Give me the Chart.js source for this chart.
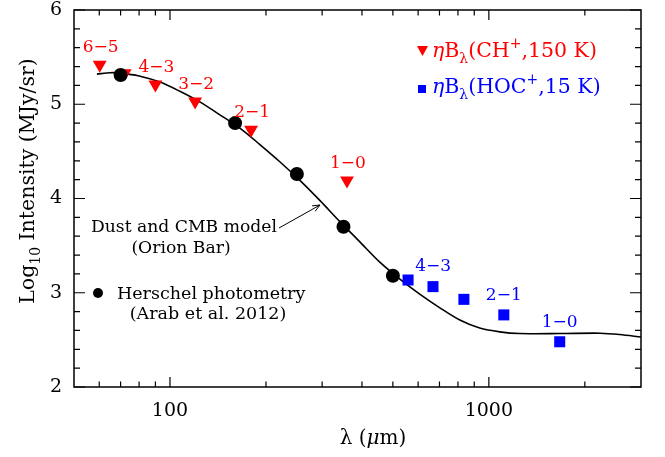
<!DOCTYPE html>
<html>
<head>
<meta charset="utf-8">
<script src="https://cdn.jsdelivr.net/npm/chart.js@4"></script>
<style>
  html, body { margin: 0; padding: 0; background: #fff; }
  canvas { display: block; }
</style>
</head>
<body>
<canvas id="chart" width="665" height="457"></canvas>
<script>
// dust + CMB model (Orion Bar)
const modelX = [59, 65, 70, 80, 93, 107, 124, 143, 166, 191, 221, 256, 295, 341, 394, 455, 526, 607, 702, 811, 936, 1082, 1250, 1670, 2230, 2570, 3000]
const modelY = [5.32, 5.335, 5.33, 5.30, 5.235, 5.14, 5.025, 4.89, 4.745, 4.575, 4.39, 4.19, 3.98, 3.755, 3.54, 3.325, 3.145, 2.985, 2.84, 2.71, 2.625, 2.585, 2.567, 2.567, 2.571, 2.557, 2.53]

// Herschel photometry (Arab et al. 2012)
const herschelX = [70, 160, 250, 350, 500]
const herschelY = [5.31, 4.80, 4.26, 3.70, 3.18]

// eta B_lambda (CH+, 150 K)
const chX = [60.2, 72.1, 90.0, 119.9, 179.6, 359.0]
const chY = [5.42, 5.33, 5.21, 5.03, 4.73, 4.19]
const chLabels = ['6−5', '', '4−3', '3−2', '2−1', '1−0']

// eta B_lambda (HOC+, 15 K)
const hocX = [558, 668, 835, 1114, 1668]
const hocY = [3.135, 3.065, 2.93, 2.765, 2.48]
const hocLabels = ['4−3', '', '', '2−1', '1−0']

const xMajorTicks = [100, 1000]
const xMinorTicks = [60, 70, 80, 90, 200, 300, 400, 500, 600, 700, 800, 900, 2000]
const yMajorTicks = [2, 3, 4, 5, 6]
const yMinorTicks = [2.2, 2.4, 2.6, 2.8, 3.2, 3.4, 3.6, 3.8, 4.2, 4.4, 4.6, 4.8, 5.2, 5.4, 5.6, 5.8]

const FAMILY = '"DejaVu Serif", serif'
const RED = '#ff0000'
const BLUE = '#0000ff'

const pts = (xs, ys) => xs.map((x, i) => ({x: x, y: ys[i]}))

// draw text made of pieces: [text, style], style '' | 'i' | 'sub' | 'sup'
function drawRich(ctx, parts, x, y, size, color, align) {
  const fonts = parts.map(([t, s]) => {
    const sz = (s === 'sub' || s === 'sup') ? size * 0.68 : size
    return (s === 'i' ? 'italic ' : '') + sz + 'px ' + FAMILY
  })
  let w = 0
  parts.forEach(([t], i) => { ctx.font = fonts[i]; w += ctx.measureText(t).width })
  let cx = align === 'center' ? x - w / 2 : x
  ctx.fillStyle = color
  ctx.textAlign = 'left'
  ctx.textBaseline = 'alphabetic'
  parts.forEach(([t, s], i) => {
    ctx.font = fonts[i]
    const dy = s === 'sub' ? size * 0.3 : s === 'sup' ? -size * 0.45 : 0
    ctx.fillText(t, cx, y + dy)
    cx += ctx.measureText(t).width
  })
}

const decorations = {
  id: 'decorations',
  afterDatasetsDraw(chart) {
    const ctx = chart.ctx
    const a = chart.chartArea
    const xs = chart.scales.x
    const ys = chart.scales.y
    ctx.save()

    // frame + inward ticks on all four sides
    ctx.strokeStyle = '#000'
    ctx.lineWidth = 1.5
    ctx.strokeRect(a.left, a.top, a.right - a.left, a.bottom - a.top)
    ctx.lineWidth = 1.2
    ctx.beginPath()
    const xt = (v, len) => {
      const p = xs.getPixelForValue(v)
      ctx.moveTo(p, a.bottom); ctx.lineTo(p, a.bottom - len)
      ctx.moveTo(p, a.top); ctx.lineTo(p, a.top + len)
    }
    const yt = (v, len) => {
      const p = ys.getPixelForValue(v)
      ctx.moveTo(a.left, p); ctx.lineTo(a.left + len, p)
      ctx.moveTo(a.right, p); ctx.lineTo(a.right - len, p)
    }
    xMajorTicks.forEach(v => xt(v, 10))
    xMinorTicks.forEach(v => xt(v, 5.5))
    yMajorTicks.forEach(v => yt(v, 11))
    yMinorTicks.forEach(v => yt(v, 6))
    ctx.stroke()

    // transition labels
    ctx.font = '17px ' + FAMILY
    ctx.textAlign = 'center'
    ctx.textBaseline = 'middle'
    ctx.fillStyle = RED
    chX.forEach((x, i) => {
      if (!chLabels[i]) return
      ctx.fillText(chLabels[i], xs.getPixelForValue(x) + 1, ys.getPixelForValue(chY[i]) - 17)
    })
    ctx.fillStyle = BLUE
    hocX.forEach((x, i) => {
      if (!hocLabels[i]) return
      const dx = i === 0 ? 25 : 0
      const dy = i === 0 ? -13 : -19
      ctx.fillText(hocLabels[i], xs.getPixelForValue(x) + dx, ys.getPixelForValue(hocY[i]) + dy)
    })

    // legend, top right
    ctx.fillStyle = RED
    ctx.beginPath()
    ctx.moveTo(417, 46); ctx.lineTo(428, 46); ctx.lineTo(422.5, 56)
    ctx.closePath(); ctx.fill()
    drawRich(ctx, [['η', 'i'], ['B', ''], ['λ', 'sub'], ['(CH', ''], ['+', 'sup'], [',150 K)', '']], 432, 57, 20.5, RED, 'left')
    ctx.fillStyle = BLUE
    ctx.fillRect(418, 85, 8, 8)
    drawRich(ctx, [['η', 'i'], ['B', ''], ['λ', 'sub'], ['(HOC', ''], ['+', 'sup'], [',15 K)', '']], 432, 93, 20.5, BLUE, 'left')

    // Herschel legend
    ctx.fillStyle = '#000'
    ctx.beginPath(); ctx.arc(98, 293, 5, 0, Math.PI * 2); ctx.fill()
    drawRich(ctx, [['Herschel photometry', '']], 117, 299, 17.5, '#000', 'left')
    drawRich(ctx, [['(Arab et al. 2012)', '']], 208, 319, 17.5, '#000', 'center')

    // model annotation with arrow
    drawRich(ctx, [['Dust and CMB model', '']], 91, 232, 17.2, '#000', 'left')
    drawRich(ctx, [['(Orion Bar)', '']], 181, 253, 17.2, '#000', 'center')
    const tx = 320, ty = 205, fx = 279, fy = 228
    ctx.strokeStyle = '#000'
    ctx.lineWidth = 1
    ctx.beginPath()
    ctx.moveTo(fx, fy); ctx.lineTo(tx, ty)
    const ang = Math.atan2(ty - fy, tx - fx)
    ctx.moveTo(tx, ty); ctx.lineTo(tx - 8 * Math.cos(ang - 0.4), ty - 8 * Math.sin(ang - 0.4))
    ctx.moveTo(tx, ty); ctx.lineTo(tx - 8 * Math.cos(ang + 0.4), ty - 8 * Math.sin(ang + 0.4))
    ctx.stroke()

    // axis titles
    drawRich(ctx, [['λ', ''], [' (', ''], ['μ', 'i'], ['m)', '']], 373, 444, 20, '#000', 'center')
    ctx.translate(34, 181)
    ctx.rotate(-Math.PI / 2)
    drawRich(ctx, [['Log', ''], ['10', 'sub'], [' Intensity (MJy/sr)', '']], 0, 0, 20.5, '#000', 'center')
    ctx.restore()
  }
}

const ctx = document.getElementById('chart').getContext('2d')
new Chart(ctx, {
  type: 'scatter',
  data: {
    datasets: [
      {
        label: 'Herschel photometry',
        data: pts(herschelX, herschelY),
        pointStyle: 'circle',
        pointRadius: 7,
        backgroundColor: '#000',
        borderWidth: 0,
        order: 0,
      },
      {
        label: 'CH+',
        data: pts(chX, chY),
        pointStyle: 'triangle',
        rotation: 180,
        pointRadius: 8,
        backgroundColor: RED,
        borderWidth: 0,
        order: 1,
      },
      {
        label: 'HOC+',
        data: pts(hocX, hocY),
        pointStyle: 'rect',
        pointRadius: 7.8,
        backgroundColor: BLUE,
        borderWidth: 0,
        order: 2,
      },
      {
        label: 'Dust and CMB model',
        type: 'line',
        data: pts(modelX, modelY),
        borderColor: '#000',
        borderWidth: 1.6,
        pointRadius: 0,
        showLine: true,
        fill: false,
        tension: 0.3,
        order: 3,
      },
    ],
  },
  options: {
    responsive: false,
    animation: false,
    layout: {padding: {top: 10, right: 24, left: 0, bottom: 0}},
    plugins: {legend: {display: false}, tooltip: {enabled: false}},
    scales: {
      x: {
        type: 'logarithmic',
        min: 50,
        max: 3000,
        grid: {display: false, drawTicks: false},
        border: {display: false},
        ticks: {
          font: {family: FAMILY, size: 19, lineHeight: 1},
          color: '#000',
          padding: 15,
          autoSkip: false,
          maxRotation: 0,
          callback: v => String(v),
        },
        afterBuildTicks: s => { s.ticks = xMajorTicks.map(v => ({value: v})) },
        afterFit: s => { s.height = 70; s.paddingLeft = 0; s.paddingRight = 0 },
      },
      y: {
        min: 2,
        max: 6,
        grid: {display: false, drawTicks: false},
        border: {display: false},
        ticks: {
          font: {family: FAMILY, size: 19, lineHeight: 1},
          color: '#000',
          padding: 12,
          callback: v => String(v),
        },
        afterBuildTicks: s => { s.ticks = yMajorTicks.map(v => ({value: v})) },
        afterFit: s => { s.width = 74; s.paddingTop = 0; s.paddingBottom = 0 },
      },
    },
  },
  plugins: [decorations],
})
</script>
</body>
</html>
